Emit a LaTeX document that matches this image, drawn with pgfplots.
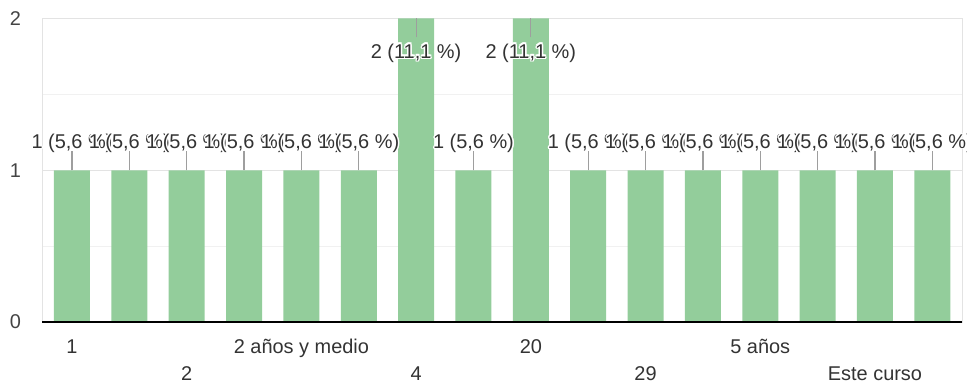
\documentclass[border=0pt]{standalone}
\usepackage{pgfplots}
\usepackage{pgfplotstable}
\pgfplotsset{compat=1.18}
\usepackage{fontspec}
\setmainfont{Liberation Sans}

\definecolor{barra}{HTML}{93CD9B}
\definecolor{etiqueta}{HTML}{333333}
\definecolor{eje}{HTML}{444444}
\definecolor{guia}{HTML}{9E9E9E}
\definecolor{rejilla}{HTML}{E3E3E3}
\definecolor{rejillafina}{HTML}{F1F1F1}

% white outline behind the value labels
\newsavebox\halow
\newsavebox\halon
\newlength\halod
\setlength\halod{1.5bp}
\newcommand\halo[1]{%
  \sbox\halow{\color{white}#1}\sbox\halon{#1}%
  \rlap{\hspace*{\halod}\usebox\halow}%
  \rlap{\hspace*{-\halod}\usebox\halow}%
  \rlap{\raisebox{\halod}{\usebox\halow}}%
  \rlap{\raisebox{-\halod}{\usebox\halow}}%
  \rlap{\hspace*{.7\halod}\raisebox{.7\halod}{\usebox\halow}}%
  \rlap{\hspace*{-.7\halod}\raisebox{.7\halod}{\usebox\halow}}%
  \rlap{\hspace*{.7\halod}\raisebox{-.7\halod}{\usebox\halow}}%
  \rlap{\hspace*{-.7\halod}\raisebox{-.7\halod}{\usebox\halow}}%
  \usebox\halon}

% count and share of the 18 answers
\newcommand\etiq{%
  \pgfmathfloattofixed{\pgfplotspointmeta}\let\val\pgfmathresult
  \pgfmathparse{100*\val/18}\let\pct\pgfmathresult
  \halo{\pgfmathprintnumber{\val} (\pgfmathprintnumber[fixed,precision=1,use comma]{\pct} \%)}}

\newcommand\letra{\fontsize{20}{23}\selectfont}

\pgfplotstableread{
x y
0 1
1 1
2 1
3 1
4 1
5 1
7 1
9 1
10 1
11 1
12 1
13 1
14 1
15 1
}\uno
\pgfplotstableread{
x y
6 2
8 2
}\dos

\begin{document}
\begin{tikzpicture}
\begin{axis}[
  name=ax, scale only axis, width=919.7bp, height=303.5bp,
  xmin=-0.517, xmax=15.517, ymin=0, ymax=2,
  clip=false,
  axis line style={rejilla, line width=0.8bp},
  major tick length=0pt, minor tick length=0pt,
  ytick={0,1,2}, minor ytick={0.5,1.5},
  ymajorgrids, yminorgrids,
  major grid style={rejilla, line width=0.8bp},
  minor grid style={rejillafina, line width=0.8bp},
  xtick={0,4,8,12},
  xticklabels={1,2 años y medio,20,5 años},
  extra x ticks={2,6,10,14},
  extra x tick labels={2,4,29,Este curso},
  extra x tick style={xticklabel style={yshift=-27bp}},
  xticklabel style={anchor=base, yshift=-31bp, font=\letra, text=etiqueta},
  yticklabel style={anchor=center, xshift=-27bp, font=\letra, text=eje},
  /pgf/number format/assume math mode=true,
  ybar, bar width=36bp,
]
\addplot[ybar, bar shift=0pt, fill=barra, draw=none,
  error bars/.cd, y dir=plus, y fixed=0.125, error mark=none,
  error bar style={guia, line width=1.2bp}]
  table[x=x, y=y] {\uno};
\addplot[ybar, bar shift=0pt, fill=barra, draw=none,
  error bars/.cd, y dir=minus, y fixed=0.125, error mark=none,
  error bar style={guia, line width=1.2bp}]
  table[x=x, y=y] {\dos};
% value labels, drawn in category order so each one overlaps the previous
\addplot[ybar, bar shift=0pt, draw=none, fill=none,
  nodes near coords=\etiq,
  every node near coord/.append style={anchor=base, yshift=22bp, font=\letra, text=etiqueta}]
  table[x=x, y=y] {\uno};
\addplot[ybar, bar shift=0pt, draw=none, fill=none,
  nodes near coords=\etiq,
  every node near coord/.append style={anchor=base, yshift=-39.5bp, font=\letra, text=etiqueta}]
  table[x=x, y=y] {\dos};
\draw[black, line width=1.5bp] (rel axis cs:0,0) -- (rel axis cs:1,0);
\end{axis}
\pgfresetboundingbox
\path[use as bounding box] ([xshift=-42.3bp,yshift=-63bp]ax.south west) rectangle ([xshift=5bp,yshift=18.5bp]ax.north east);
\end{tikzpicture}
\end{document}
